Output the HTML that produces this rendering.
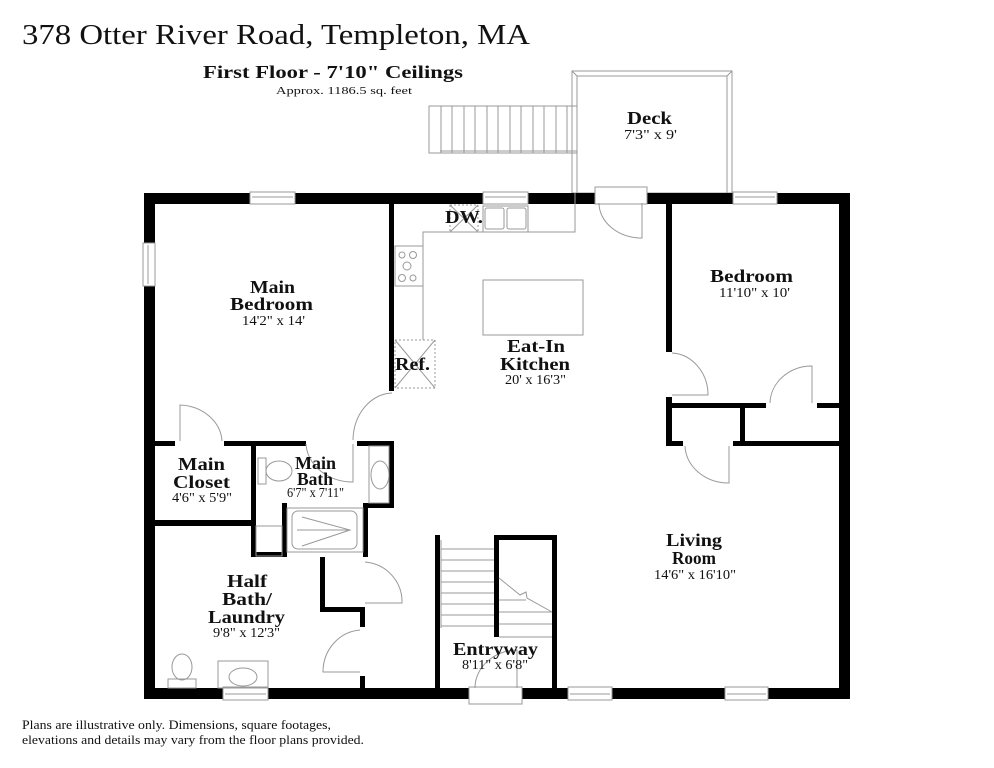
<!DOCTYPE html>
<html><head><meta charset="utf-8"><style>
html,body{margin:0;padding:0;background:#fff;}
svg{display:block;}
.t{font-family:"Liberation Serif",serif;fill:#111;}
.b{font-family:"Liberation Serif",serif;font-weight:bold;fill:#111;font-size:18px;}
.d{font-family:"Liberation Serif",serif;fill:#111;font-size:13.5px;}
.g{fill:none;stroke:#999;stroke-width:1;}
</style></head><body>
<svg width="994" height="768" viewBox="0 0 994 768" xmlns="http://www.w3.org/2000/svg">
<rect width="994" height="768" fill="#fff"/>
<text class="t" x="22" y="44" font-size="29" textLength="508" lengthAdjust="spacingAndGlyphs">378 Otter River Road, Templeton, MA</text>
<text class="b" x="203" y="78" font-size="17" textLength="260" lengthAdjust="spacingAndGlyphs">First Floor - 7'10" Ceilings</text>
<text class="t" x="276" y="94" font-size="11" textLength="136" lengthAdjust="spacingAndGlyphs">Approx. 1186.5 sq. feet</text>

<!-- deck -->
<rect x="572" y="71" width="160" height="122" class="g"/>
<rect x="577" y="76" width="150" height="117" class="g"/>
<line x1="572" y1="71" x2="577" y2="76" class="g"/><line x1="732" y1="71" x2="727" y2="76" class="g"/>
<rect x="429" y="106" width="148" height="47" class="g"/>
<g class="g">
<line x1="441" y1="106" x2="441" y2="153"/><line x1="452" y1="106" x2="452" y2="153"/><line x1="464" y1="106" x2="464" y2="153"/><line x1="475" y1="106" x2="475" y2="153"/><line x1="487" y1="106" x2="487" y2="153"/><line x1="498" y1="106" x2="498" y2="153"/><line x1="510" y1="106" x2="510" y2="153"/><line x1="521" y1="106" x2="521" y2="153"/><line x1="533" y1="106" x2="533" y2="153"/><line x1="544" y1="106" x2="544" y2="153"/><line x1="556" y1="106" x2="556" y2="153"/><line x1="567" y1="106" x2="567" y2="153"/>
<line x1="440" y1="151" x2="577" y2="151"/>
</g>
<text class="b" x="627" y="124" textLength="45" lengthAdjust="spacingAndGlyphs">Deck</text>
<text class="d" x="624" y="139" textLength="53" lengthAdjust="spacingAndGlyphs">7'3" x 9'</text>

<!-- outer walls -->
<rect x="149.5" y="198.5" width="695" height="495" fill="none" stroke="#000" stroke-width="11"/>
<g fill="#fff" stroke="#999" stroke-width="1">
<rect x="250" y="192" width="45" height="12"/>
<rect x="483" y="192" width="45" height="12"/>
<rect x="595" y="187" width="52" height="17"/>
<rect x="733" y="192" width="44" height="12"/>
<rect x="143" y="243" width="12" height="43"/>
<rect x="223" y="687" width="45" height="13"/>
<rect x="469" y="687" width="53" height="17"/>
<rect x="568" y="687" width="44" height="13"/>
<rect x="725" y="687" width="43" height="13"/>
</g>
<g stroke="#999" stroke-width="1">
<line x1="252" y1="197" x2="293" y2="197"/><line x1="485" y1="197" x2="526" y2="197"/><line x1="735" y1="197" x2="775" y2="197"/>
<line x1="148" y1="245" x2="148" y2="284"/><line x1="225" y1="694" x2="266" y2="694"/><line x1="570" y1="694" x2="610" y2="694"/><line x1="727" y1="694" x2="766" y2="694"/>
</g>

<!-- interior walls -->
<g fill="#000">
<rect x="389" y="203" width="5" height="188"/>
<rect x="155" y="441" width="20" height="5"/>
<rect x="224" y="441" width="82" height="5"/>
<rect x="357" y="441" width="37" height="5"/>
<rect x="389" y="441" width="5" height="67"/>
<rect x="155" y="520" width="96" height="6"/>
<rect x="251" y="441" width="5" height="116"/>
<rect x="251" y="552" width="36" height="5"/>
<rect x="282" y="503" width="5" height="54"/>
<rect x="363" y="503" width="31" height="5"/>
<rect x="363" y="503" width="5" height="54"/>
<rect x="320" y="557" width="5" height="55"/>
<rect x="320" y="607" width="45" height="5"/>
<rect x="360" y="607" width="5" height="20"/>
<rect x="360" y="676" width="5" height="12"/>
<rect x="435" y="535" width="5" height="153"/>
<rect x="494" y="535" width="63" height="5"/>
<rect x="494" y="535" width="5" height="102"/>
<rect x="552" y="535" width="5" height="153"/>
<rect x="666" y="203" width="6" height="149"/>
<rect x="666" y="397" width="6" height="49"/>
<rect x="666" y="403" width="100" height="5"/>
<rect x="817" y="403" width="22" height="5"/>
<rect x="740" y="403" width="5" height="41"/>
<rect x="733" y="441" width="106" height="5"/>
<rect x="666" y="441" width="17" height="5"/>
</g>

<!-- kitchen -->
<g class="g">
<polyline points="575,193 575,232 423,232 423,340"/>
<rect x="395" y="246" width="28" height="40"/>
<rect x="395" y="340" width="40" height="48" stroke-dasharray="2,2"/>
<line x1="395" y1="340" x2="435" y2="388"/><line x1="435" y1="340" x2="395" y2="388"/>
<rect x="450" y="205" width="28" height="27" stroke-dasharray="2,2"/>
<line x1="450" y1="205" x2="478" y2="232"/><line x1="478" y1="205" x2="450" y2="232"/>
<rect x="483" y="206" width="45" height="26"/>
<rect x="485" y="208" width="19" height="21" rx="2"/><rect x="507" y="208" width="19" height="21" rx="2"/>
<rect x="483" y="280" width="100" height="55"/>
<circle cx="402" cy="255" r="3"/><circle cx="413" cy="255" r="3.5"/><circle cx="407" cy="266" r="4"/><circle cx="402" cy="278" r="3.5"/><circle cx="413" cy="278" r="3"/>
</g>
<text class="b" x="445" y="223" textLength="38" lengthAdjust="spacingAndGlyphs">DW.</text>
<text class="b" x="395" y="370" textLength="35" lengthAdjust="spacingAndGlyphs">Ref.</text>

<!-- bath fixtures -->
<g class="g">
<rect x="258" y="458" width="8" height="26"/>
<ellipse cx="279" cy="471" rx="13" ry="10"/>
<rect x="369" y="446" width="20" height="57"/>
<ellipse cx="380" cy="475" rx="9" ry="14"/>
<rect x="287" y="508" width="76" height="44"/>
<rect x="292" y="511" width="65" height="38" rx="6"/>
<polyline points="297,530 350,530"/><polyline points="302,517 350,530 302,546"/>
<rect x="256" y="526" width="26" height="30"/>
<rect x="168" y="679" width="28" height="9"/>
<ellipse cx="182" cy="667" rx="10" ry="13"/>
<rect x="218" y="661" width="50" height="27"/>
<ellipse cx="243" cy="677" rx="14" ry="9"/>
</g>

<!-- stairs -->
<g class="g">
<line x1="441" y1="549" x2="494" y2="549"/><line x1="441" y1="560" x2="494" y2="560"/><line x1="441" y1="571" x2="494" y2="571"/><line x1="441" y1="582" x2="494" y2="582"/><line x1="441" y1="593" x2="494" y2="593"/><line x1="441" y1="604" x2="494" y2="604"/><line x1="441" y1="615" x2="494" y2="615"/><line x1="441" y1="626" x2="494" y2="626"/>
<line x1="441" y1="540" x2="441" y2="628"/>
<polyline points="499,578 520,595 526,592 527,598 552,612"/>
<line x1="499" y1="600" x2="526" y2="600"/><line x1="499" y1="612" x2="552" y2="612"/><line x1="499" y1="624" x2="552" y2="624"/><line x1="499" y1="637" x2="552" y2="637"/>
</g>

<!-- doors -->
<g class="g">
<path d="M599,203 A43,35 0 0,0 642,238 L642,203"/>
<path d="M392,393 A40,48 0 0,0 353,440"/>
<path d="M180,441 L180,405 A44,38 0 0,1 222,441"/>
<path d="M306,444 A47,40 0 0,0 353,482 L353,444"/>
<path d="M365,562 A40,40 0 0,1 402,603 L365,603"/>
<path d="M360,630 A40,42 0 0,0 323,672 L360,672"/>
<path d="M475,688 A43,38 0 0,1 517,650 L517,688"/>
<path d="M672,353 A38,42 0 0,1 708,395 L672,395"/>
<path d="M812,403 L812,366 A42,38 0 0,0 770,403"/>
<path d="M685,446 A44,38 0 0,0 729,483 L729,446"/>
</g>

<!-- labels -->
<text class="b" x="250" y="293" textLength="45" lengthAdjust="spacingAndGlyphs">Main</text>
<text class="b" x="230" y="310" textLength="83" lengthAdjust="spacingAndGlyphs">Bedroom</text>
<text class="d" x="242" y="325" textLength="63" lengthAdjust="spacingAndGlyphs">14'2" x 14'</text>
<text class="b" x="507" y="352" textLength="58" lengthAdjust="spacingAndGlyphs">Eat-In</text>
<text class="b" x="500" y="370" textLength="70" lengthAdjust="spacingAndGlyphs">Kitchen</text>
<text class="d" x="505" y="384" textLength="61" lengthAdjust="spacingAndGlyphs">20' x 16'3"</text>
<text class="b" x="710" y="282" textLength="83" lengthAdjust="spacingAndGlyphs">Bedroom</text>
<text class="d" x="719" y="297" textLength="71" lengthAdjust="spacingAndGlyphs">11'10" x 10'</text>
<text class="b" x="178" y="470" textLength="47" lengthAdjust="spacingAndGlyphs">Main</text>
<text class="b" x="173" y="488" textLength="57" lengthAdjust="spacingAndGlyphs">Closet</text>
<text class="d" x="172" y="502" textLength="60" lengthAdjust="spacingAndGlyphs">4'6" x 5'9"</text>
<text class="b" x="295" y="469" textLength="41" lengthAdjust="spacingAndGlyphs">Main</text>
<text class="b" x="297" y="485" textLength="36" lengthAdjust="spacingAndGlyphs">Bath</text>
<text class="d" x="287" y="497" textLength="57" lengthAdjust="spacingAndGlyphs">6'7" x 7'11"</text>
<text class="b" x="227" y="587" textLength="40" lengthAdjust="spacingAndGlyphs">Half</text>
<text class="b" x="222" y="605" textLength="50" lengthAdjust="spacingAndGlyphs">Bath/</text>
<text class="b" x="208" y="623" textLength="77" lengthAdjust="spacingAndGlyphs">Laundry</text>
<text class="d" x="213" y="637" textLength="67" lengthAdjust="spacingAndGlyphs">9'8" x 12'3"</text>
<text class="b" x="666" y="546" textLength="56" lengthAdjust="spacingAndGlyphs">Living</text>
<text class="b" x="672" y="564" textLength="44" lengthAdjust="spacingAndGlyphs">Room</text>
<text class="d" x="654" y="579" textLength="82" lengthAdjust="spacingAndGlyphs">14'6" x 16'10"</text>
<text class="b" x="453" y="655" textLength="85" lengthAdjust="spacingAndGlyphs">Entryway</text>
<text class="d" x="462" y="669" textLength="66" lengthAdjust="spacingAndGlyphs">8'11" x 6'8"</text>

<text class="t" x="22" y="729" font-size="12.5" textLength="309" lengthAdjust="spacingAndGlyphs">Plans are illustrative only. Dimensions, square footages,</text>
<text class="t" x="22" y="744" font-size="12.5" textLength="342" lengthAdjust="spacingAndGlyphs">elevations and details may vary from the floor plans provided.</text>
</svg>
</body></html>
